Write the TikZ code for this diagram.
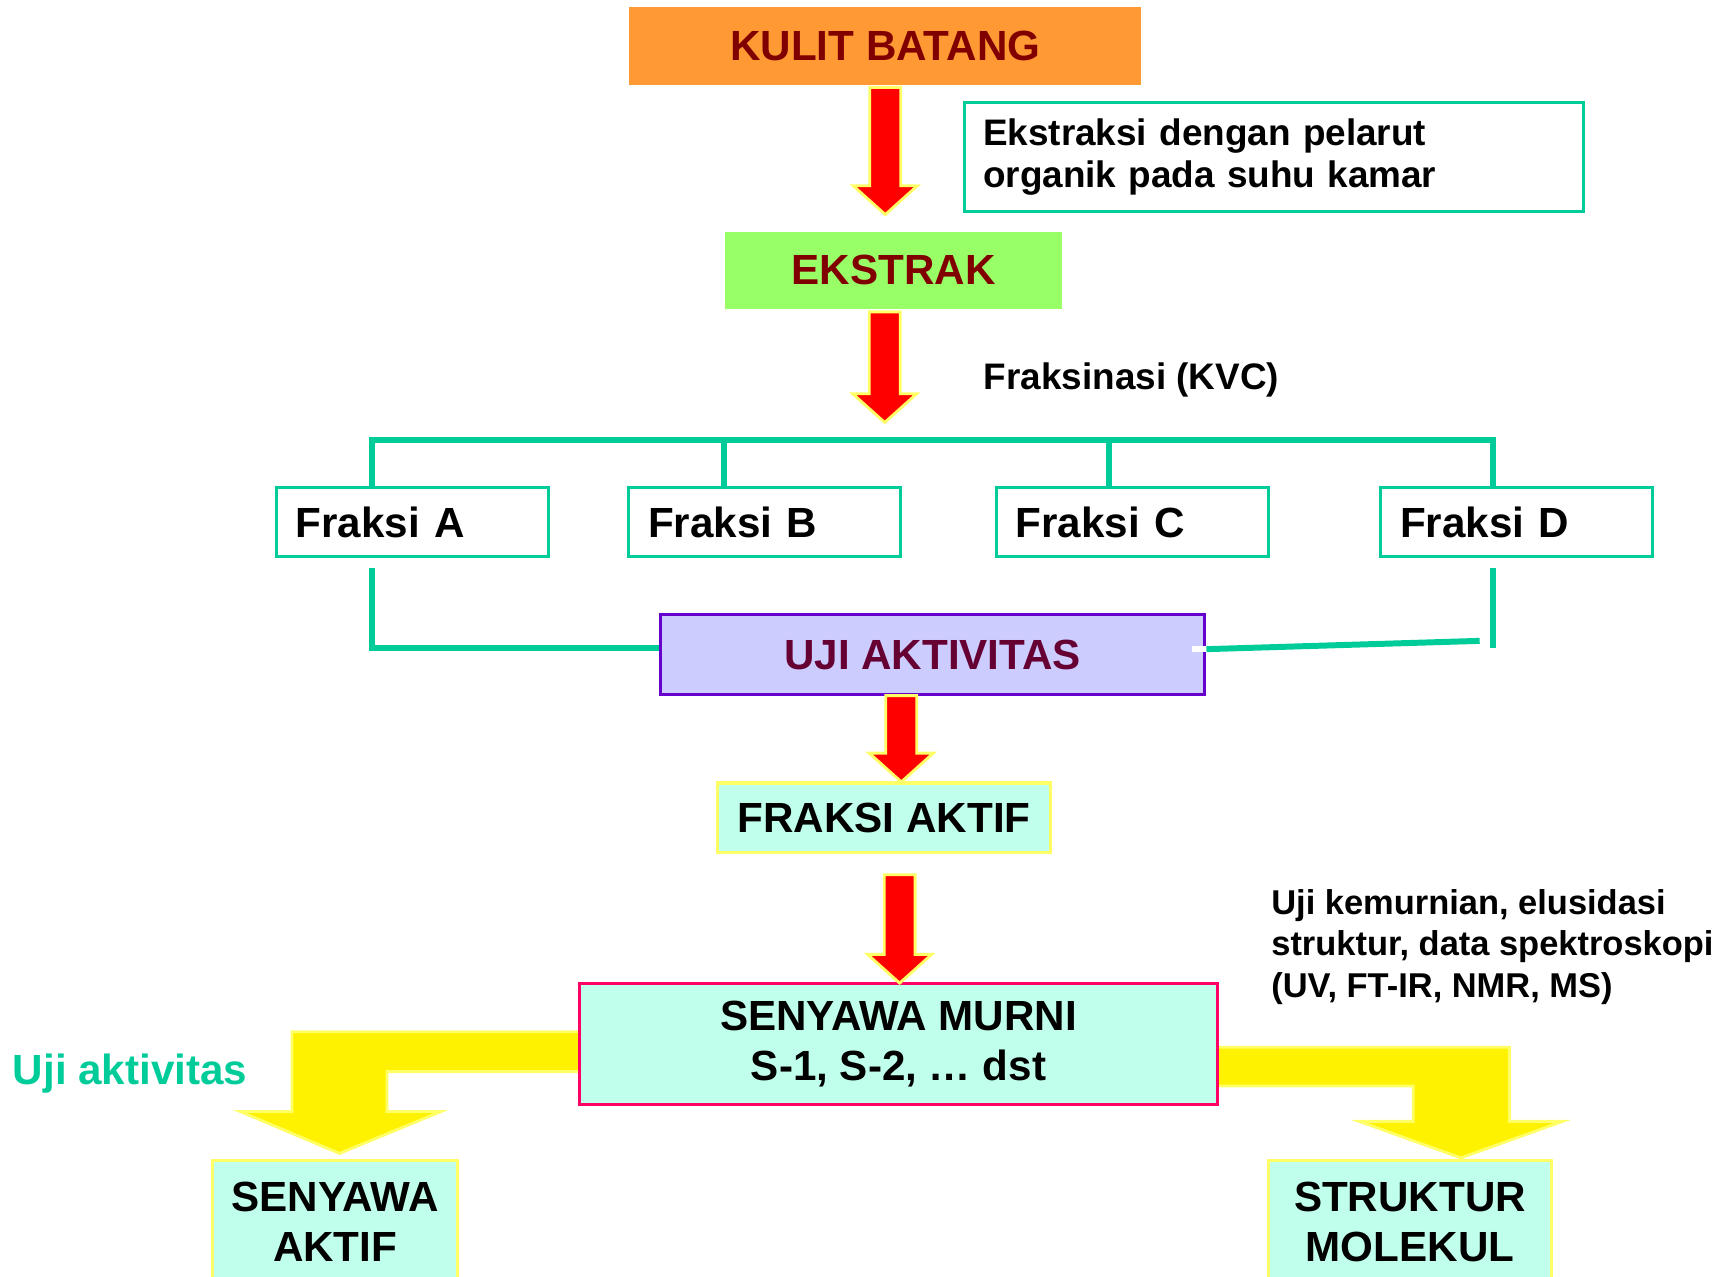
\documentclass[tikz,border=0pt]{standalone}
\usepackage{fontspec}
\setmainfont{Liberation Sans}
\usetikzlibrary{calc}
\definecolor{kulitorange}{HTML}{FF9933}
\definecolor{darkred}{HTML}{800000}
\definecolor{ekstrakgreen}{HTML}{99FF66}
\definecolor{bracketteal}{HTML}{00CC99}
\definecolor{ujifill}{HTML}{CCCCFF}
\definecolor{ujidraw}{HTML}{6600CC}
\definecolor{ujitext}{HTML}{660033}
\definecolor{mint}{HTML}{C0FFEC}
\definecolor{paleyellow}{HTML}{FFFF66}
\definecolor{murnipink}{HTML}{FF0066}
\newdimen\pxu \pxu=0.1106mm
% red block arrow pointing down, from #1 to the tip #2
\newcommand\blockdown[2]{\draw[redarrow] let \p1=(#1), \p2=(#2) in
  (\x1-14\pxu,\y1) -- (\x1-14\pxu,\y2+26\pxu) -- (\x1-29\pxu,\y2+26\pxu) -- (\x2,\y2)
  -- (\x1+29\pxu,\y2+26\pxu) -- (\x1+14\pxu,\y2+26\pxu) -- (\x1+14\pxu,\y1) -- cycle;}

\begin{document}
\begin{tikzpicture}[x=\pxu, y=-1\pxu,
  box/.style={rectangle, inner sep=0pt, align=center, font=\fontsize{12pt}{14.2pt}\selectfont\bfseries},
  note/.style={font=\fontsize{10.5pt}{12pt}\selectfont\bfseries},
  fraksi/.style={box, draw=bracketteal, line width=0.9pt, minimum width=246\pxu, minimum height=63\pxu, text width=211\pxu, align=left},
  hasil/.style={box, draw=paleyellow, line width=0.9pt, fill=mint},
  bracket/.style={draw=bracketteal, line width=1.7pt},
  redarrow/.style={fill=red, draw=paleyellow, line width=0.8pt},
  yellowarrow/.style={fill=yellow, draw=paleyellow, line width=0.8pt}]
\useasboundingbox (0,0) rectangle (1568,1154);

% yellow arrows under the boxes
\coordinate (ml) at (524,951); \coordinate (mr) at (1101,964);
\draw[yellowarrow] (ml |- 0,933) -| (264,1005) -- (217,1005) -- (307,1043) -- (399,1005) -- (350,1005) |- (ml |- 0,969) -- cycle;
\draw[yellowarrow] (mr |- 0,947) -| (1365,1014) -- (1413,1014) -- (1321,1047) -- (1229,1014) -- (1278,1014) |- (mr |- 0,982) -- cycle;

% boxes
\node[box, fill=kulitorange, text=darkred, minimum width=463\pxu, minimum height=70\pxu] (kulit) at (800.5,41.5) {KULIT BATANG};
\node[box, note, draw=bracketteal, line width=0.9pt, minimum width=560\pxu, minimum height=98\pxu, text width=526\pxu, align=left] (pelarut) at (1152,142) {Ekstraksi dengan pelarut\\organik pada suhu kamar};
\node[box, fill=ekstrakgreen, text=darkred, minimum width=304\pxu, minimum height=69\pxu] (ekstrak) at (808,244.5) {EKSTRAK};
\node[note, anchor=base west, inner sep=0pt] (kvc) at (889,352) {Fraksinasi (KVC)};

\node[fraksi] (fa) at (373,472) {Fraksi A};
\node[fraksi] (fb) at (691.5,472) {Fraksi B};
\node[fraksi] (fc) at (1024,472) {Fraksi C};
\node[fraksi] (fd) at (1371.5,472) {Fraksi D};

\node[box, fill=ujifill, draw=ujidraw, line width=0.9pt, text=ujitext, minimum width=492.5\pxu, minimum height=72\pxu] (uji) at (843.25,592) {UJI AKTIVITAS};
\node[hasil, minimum width=301\pxu, minimum height=63\pxu] (aktif) at (799.5,739.5) {FRAKSI AKTIF};
\node[box, fill=mint, draw=murnipink, line width=0.9pt, minimum width=577\pxu, minimum height=110\pxu] (murni) at (812.5,944) {SENYAWA MURNI\\S-1, S-2, … dst};
\node[anchor=north west, inner sep=0pt, align=left, font=\fontsize{9.8pt}{11.8pt}\selectfont\bfseries] (spektro) at (1149,803.5) {Uji kemurnian, elusidasi\\struktur, data spektroskopi\\(UV, FT-IR, NMR, MS)};
\node[anchor=base west, inner sep=0pt, text=bracketteal, font=\fontsize{12pt}{14pt}\selectfont\bfseries] (ujilabel) at (11,981) {Uji aktivitas};
\node[hasil, minimum width=222\pxu, minimum height=112\pxu] (senaktif) at (303,1105) {SENYAWA\\AKTIF};
\node[hasil, minimum width=256\pxu, minimum height=112\pxu] (struktur) at (1275,1105) {STRUKTUR\\MOLEKUL};

% red arrows
\coordinate (r1a) at (800.5,79);  \coordinate (r1b) at (800.5,194);
\coordinate (r2a) at (800,282);   \coordinate (r2b) at (800,382);
\coordinate (r3a) at (815,629);   \coordinate (r3b) at (815,707);
\coordinate (r4a) at (813.5,791); \coordinate (r4b) at (813.5,889);
\blockdown{r1a}{r1b}
\blockdown{r2a}{r2b}
\blockdown{r3a}{r3b}
\blockdown{r4a}{r4b}

% fraksinasi bracket
\coordinate (ta) at (336,398); \coordinate (tb) at (655,398);
\coordinate (tc) at (1003,398); \coordinate (td) at (1350,398);
\draw[bracket] (ta |- fa.north) -- (ta) -- (td) -- (td |- fd.north);
\draw[bracket] (tb) -- (tb |- fb.north);
\draw[bracket] (tc) -- (tc |- fc.north);

% lines to uji aktivitas
\coordinate (ba) at (336,514); \coordinate (bd) at (1350,514);
\coordinate (bd2) at (1350,586); \coordinate (sd) at (1338,579.5);
\draw[bracket] (ba) |- ([yshift=6\pxu]uji.west);
\draw[bracket] (bd) -- (bd2);
\draw[bracket] (sd) -- ([yshift=5\pxu]uji.east);
\draw[white, line width=1.7pt] ([yshift=5\pxu]uji.east) -- ++(-13,0);
\end{tikzpicture}
\end{document}
